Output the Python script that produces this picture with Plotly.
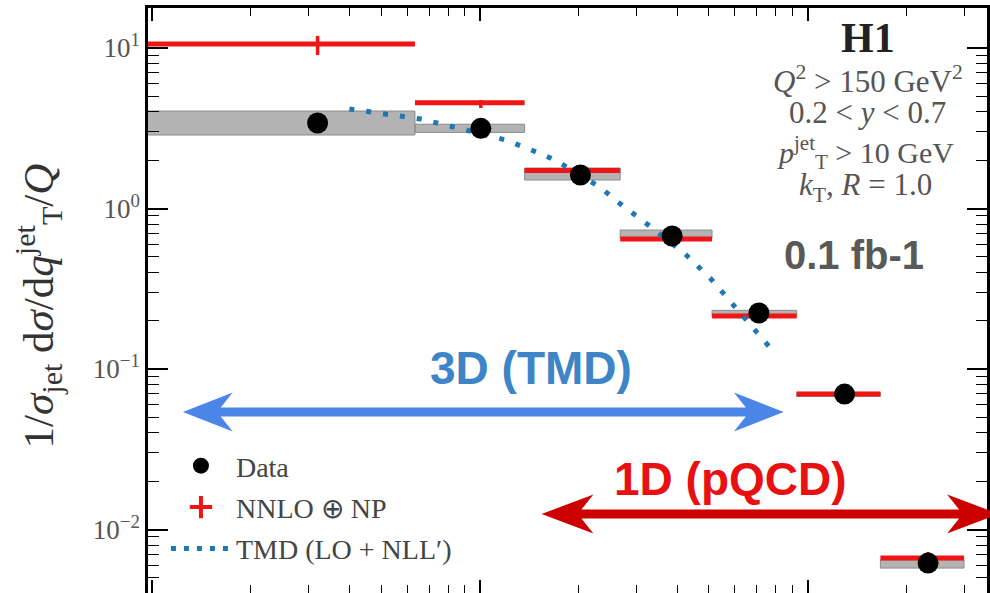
import plotly.graph_objects as go

# ---------------- data ----------------
# q_T^jet / Q bins
bin_lo = [0.005, 0.0634, 0.137, 0.268, 0.511, 0.926, 1.667]
bin_hi = [0.0634, 0.137, 0.268, 0.511, 0.926, 1.667, 3.0]
data_x = [0.032, 0.1007, 0.2027, 0.386, 0.710, 1.296, 2.33]
data_y = [3.41, 3.16, 1.617, 0.674, 0.2234, 0.0698, 0.00618]
sys_lo = [2.87, 2.98, 1.505, 0.655, 0.212, 0.0675, 0.00575]
sys_hi = [4.05, 3.35, 1.788, 0.734, 0.232, 0.0715, 0.00646]
nnlo_y = [10.59, 4.56, 1.725, 0.645, 0.214, 0.0698, 0.00664]
nnlo_up = [11.9, 4.74, 1.75, 0.655, 0.217, 0.0705, 0.00724]
nnlo_dn = [9.04, 4.23, 1.70, 0.635, 0.211, 0.069, 0.0063]
tmd_x = [0.040, 0.051, 0.066, 0.083, 0.120, 0.151, 0.170, 0.235, 0.259,
         0.315, 0.423, 0.507, 0.596, 0.705, 0.77]
tmd_y = [4.17, 3.88, 3.61, 3.22, 2.67, 2.22, 2.00, 1.34, 1.13,
         0.836, 0.521, 0.364, 0.247, 0.168, 0.135]

y_tickvals = [0.01, 0.1, 1, 10]
y_ticktext = ["10<sup>\u22122</sup>", "10<sup>\u22121</sup>", "10<sup>0</sup>", "10<sup>1</sup>"]
x_tickvals = [0.01, 0.1, 1]

SERIF = "Liberation Serif, Times New Roman, serif"
SANS = "Liberation Sans, Arial, sans-serif"

W, H = 990, 593
ML, MR, MT, MB = 148, 0, 8, 0
PW, PH = W - ML - MR, H - MT - MB


def P(X, Y):
    return (X - ML) / PW, (H - MB - Y) / PH


fig = go.Figure()

# grey data-uncertainty boxes
bx, by = [], []
for lo, hi, a, b in zip(bin_lo, bin_hi, sys_lo, sys_hi):
    bx += [lo, hi, hi, lo, lo, None]
    by += [a, a, b, b, a, None]
fig.add_trace(go.Scatter(x=bx, y=by, mode="lines", fill="toself",
                         fillcolor="#b3b3b3", line=dict(color="#8c8c8c", width=1),
                         showlegend=False, hoverinfo="skip"))

# NNLO horizontal bars
rx, ry = [], []
for lo, hi, v in zip(bin_lo, bin_hi, nnlo_y):
    rx += [lo, hi, None]
    ry += [v, v, None]
fig.add_trace(go.Scatter(x=rx, y=ry, mode="lines", line=dict(color="#f01414", width=5),
                         showlegend=False, hoverinfo="skip"))
# NNLO vertical error bars
fig.add_trace(go.Scatter(
    x=data_x, y=nnlo_y, mode="markers", marker=dict(size=1, color="rgba(0,0,0,0)"),
    error_y=dict(type="data", symmetric=False,
                 array=[u - v for u, v in zip(nnlo_up, nnlo_y)],
                 arrayminus=[v - d for v, d in zip(nnlo_y, nnlo_dn)],
                 color="#f01414", thickness=3.5, width=0),
    showlegend=False, hoverinfo="skip"))

# TMD curve
fig.add_trace(go.Scatter(x=tmd_x, y=tmd_y, mode="lines", name="TMD (LO + NLL\u2032)",
                         line=dict(color="#1f77b4", width=5, dash="5px,12px"),
                         legendgroup="c", showlegend=False))

# data points
fig.add_trace(go.Scatter(x=data_x, y=data_y, mode="markers", name="Data",
                         marker=dict(symbol="circle", size=21, color="black"),
                         legendgroup="a", showlegend=True))

# legend-only entries
fig.add_trace(go.Scatter(x=[None], y=[None], mode="markers", name="NNLO \u2295 NP",
                         marker=dict(symbol="cross-thin", size=16,
                                     line=dict(color="#f01414", width=4)),
                         legendgroup="b", showlegend=True))
fig.add_trace(go.Scatter(x=[None], y=[None], mode="lines", name="TMD (LO + NLL\u2032)",
                         line=dict(color="#1f77b4", width=5, dash="5px,8px"),
                         legendgroup="c", showlegend=True))


def arrow_path(x1, x2, y, L, Hh, t, n):
    pts = [(x1, y), (x1 + L, y - Hh), (x1 + L - n, y - t), (x2 - L + n, y - t),
           (x2 - L, y - Hh), (x2, y), (x2 - L, y + Hh), (x2 - L + n, y + t),
           (x1 + L - n, y + t), (x1 + L, y + Hh)]
    s = ""
    for i, (X, Y) in enumerate(pts):
        px, py = P(X, Y)
        s += ("M" if i == 0 else "L") + f"{px:.5f},{py:.5f} "
    return s + "Z"


shapes = [
    dict(type="path", xref="paper", yref="paper",
         path=arrow_path(183, 786, 412, 50, 19.5, 4.5, 12),
         fillcolor="#4a86e8", line=dict(width=0)),
    dict(type="path", xref="paper", yref="paper",
         path=arrow_path(543, 1002, 514, 52, 19.5, 4.5, 12),
         fillcolor="#cc0000", line=dict(width=0)),
]

annotations = []


def txt(X, Y, text, size, color, family, **kw):
    px, py = P(X, Y)
    d = dict(x=px, y=py, xref="paper", yref="paper", text=text, showarrow=False,
             xanchor="center", yanchor="middle",
             font=dict(size=size, color=color, family=family))
    d.update(kw)
    annotations.append(d)


txt(532, 368, "<b>3D (TMD)</b>", 46, "#3d85c6", SANS)
txt(733, 479, "<b>1D (pQCD)</b>", 46, "#e81010", SANS)
txt(857, 255, "<b>0.1 fb-1</b>", 40, "#595959", SANS)
txt(871, 38, "<b>H1</b>", 42, "#222222", SERIF)
txt(871, 79, "<i>Q</i><sup>2</sup> &gt; 150 GeV<sup>2</sup>", 31, "#555555", SERIF)
txt(870, 112, "0.2 &lt; <i>y</i> &lt; 0.7", 31, "#555555", SERIF)
txt(868, 152, "<i>p</i><sup>jet</sup><sub>T</sub> &gt; 10 GeV", 30, "#555555", SERIF)
txt(868, 187, "<i>k</i><sub>T</sub>, <i>R</i> = 1.0", 31, "#555555", SERIF)
txt(38, 306, "1/<i>\u03c3</i><sub>jet</sub> d<i>\u03c3</i>/d<i>q</i><sup>jet</sup><sub>T</sub>/<i>Q</i>",
    43, "#333333", SERIF, textangle=-90)

minor_x = [m * 10.0 ** e for e in range(-3, 1) for m in range(2, 10)]
minor_y = [m * 10.0 ** e for e in range(-3, 2) for m in range(2, 10)]

axis_common = dict(type="log", showline=True, linecolor="black", linewidth=2.5,
                   mirror="ticks", ticks="inside", tickcolor="black", tickwidth=1.5,
                   showgrid=False, zeroline=False)

fig.update_layout(
    width=W, height=H,
    margin=dict(l=ML, r=MR, t=MT, b=MB, pad=0),
    paper_bgcolor="white", plot_bgcolor="white",
    xaxis=dict(range=[-2.0122, 0.5471], tickmode="array", tickvals=x_tickvals,
               showticklabels=False, ticklen=13,
               minor=dict(tickmode="array", tickvals=minor_x, ticks="inside",
                          ticklen=8, tickwidth=1.2, tickcolor="black", showgrid=False),
               **axis_common),
    yaxis=dict(range=[-2.3956, 1.2492], tickmode="array", tickvals=y_tickvals,
               ticktext=y_ticktext, ticklen=20,
               tickfont=dict(family=SERIF, size=27, color="#555555"),
               minor=dict(tickmode="array", tickvals=minor_y, ticks="inside",
                          ticklen=11, tickwidth=1.2, tickcolor="black", showgrid=False),
               **axis_common),
    legend=dict(x=P(166, 0)[0], y=P(0, 441)[1], xanchor="left", yanchor="top",
                bgcolor="rgba(0,0,0,0)", font=dict(family=SERIF, size=28, color="#444444"),
                tracegroupgap=2, itemwidth=60),
    shapes=shapes,
    annotations=annotations,
)

fig.write_html(
    "out.html",
    config={"displayModeBar": False},
    post_script="document.body.style.margin='0';document.body.style.overflow='hidden';",
)
